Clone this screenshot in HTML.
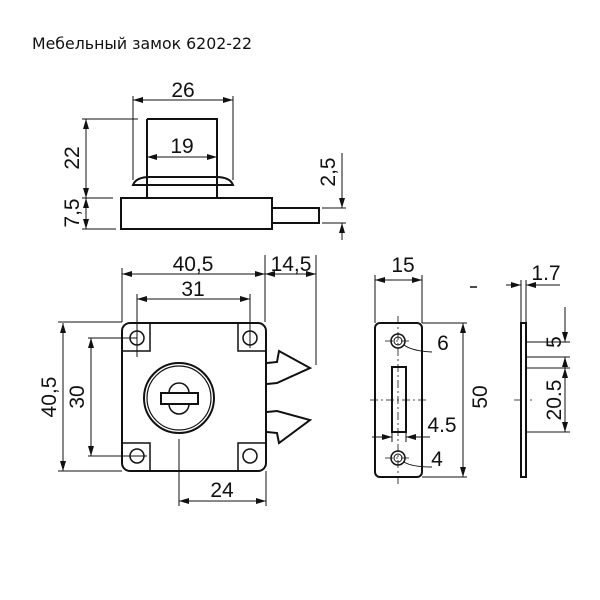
<!DOCTYPE html>
<html><head><meta charset="utf-8"><style>
html,body{margin:0;padding:0;background:#fff;}
svg{display:block}
text{font-family:"Liberation Sans",sans-serif;fill:#111}
</style></head><body>
<svg width="600" height="600" viewBox="0 0 600 600" xmlns="http://www.w3.org/2000/svg">
<defs>
<marker id="a" viewBox="0 0 10 6" refX="10" refY="3" markerWidth="10" markerHeight="6" orient="auto-start-reverse" markerUnits="userSpaceOnUse">
<path d="M0,0 L10,3 L0,6 z" fill="#111"/></marker>
</defs>
<text x="32" y="49" font-size="16" textLength="220" lengthAdjust="spacingAndGlyphs" style="font-family:'DejaVu Sans Condensed','DejaVu Sans',sans-serif">Мебельный замок 6202-22</text>

<g stroke="#111" fill="none" stroke-width="1">
<rect x="121" y="198" width="151" height="31" stroke-width="2"/>
<rect x="272" y="208" width="47" height="15" stroke-width="2"/>
<path d="M147,177 L147,198 M217,177 L217,198 M147,119 L217,119 L217,177 M147,119 L147,177" stroke-width="2"/>
<path d="M133,185 Q136,177 150,177 L216,177 Q230,177 233,185 Z" stroke-width="2"/>
<line x1="133" y1="100" x2="233" y2="100" marker-start="url(#a)" marker-end="url(#a)"/>
<line x1="133" y1="96" x2="133" y2="180"/><line x1="233" y1="96" x2="233" y2="180"/>
<line x1="147" y1="157" x2="217" y2="157" marker-start="url(#a)" marker-end="url(#a)"/>
<line x1="86" y1="119" x2="86" y2="198" marker-start="url(#a)" marker-end="url(#a)"/>
<line x1="86" y1="198" x2="86" y2="229" marker-start="url(#a)" marker-end="url(#a)"/>
<line x1="82" y1="119" x2="138" y2="119"/>
<line x1="82" y1="198" x2="113" y2="198"/>
<line x1="82" y1="229" x2="116" y2="229"/>
<line x1="342" y1="153" x2="342" y2="208" marker-end="url(#a)"/>
<line x1="342" y1="240" x2="342" y2="223" marker-end="url(#a)"/>
<line x1="322" y1="208" x2="346" y2="208"/><line x1="322" y1="223" x2="346" y2="223"/>

<rect x="122" y="323" width="144" height="148" rx="8" stroke-width="2"/>
<path d="M122,351 L150,351 L150,323 M238,323 L238,351 L266,351 M122,443 L150,443 L150,471 M238,471 L238,443 L266,443" stroke-width="1.5"/>
<circle cx="137" cy="338" r="7" stroke-width="1.5"/><circle cx="250" cy="338" r="7" stroke-width="1.5"/>
<circle cx="137" cy="456" r="7" stroke-width="1.5"/><circle cx="250" cy="456" r="7" stroke-width="1.5"/>
<circle cx="179" cy="398" r="35" stroke-width="2"/><circle cx="179" cy="398" r="32" stroke-width="1.2"/>
<path d="M169,393 A10,10 0 0 1 189,393" stroke-width="1.5"/>
<path d="M169,404 A10,10 0 0 0 189,404" stroke-width="1.5"/>
<rect x="161" y="393" width="37" height="11" stroke-width="2"/>
<path d="M267,363 L277,362 L279,351 L310,368 L277,383 L267,384" stroke-width="2"/>
<path d="M267,412 L277,411 L310,420 L279,443 L277,433 L267,432" stroke-width="2"/>
<line x1="122" y1="274" x2="265" y2="274" marker-start="url(#a)" marker-end="url(#a)"/>
<line x1="265" y1="274" x2="316" y2="274" marker-start="url(#a)" marker-end="url(#a)"/>
<line x1="122" y1="268" x2="122" y2="322"/><line x1="265" y1="255" x2="265" y2="322"/>
<line x1="316" y1="255" x2="316" y2="365"/>
<line x1="137" y1="299" x2="250" y2="299" marker-start="url(#a)" marker-end="url(#a)"/>
<line x1="137" y1="294" x2="137" y2="357"/><line x1="250" y1="294" x2="250" y2="348"/>
<line x1="63" y1="323" x2="63" y2="471" marker-start="url(#a)" marker-end="url(#a)"/>
<line x1="58" y1="322" x2="122" y2="322"/><line x1="58" y1="471" x2="122" y2="471"/>
<line x1="91" y1="338" x2="91" y2="456" marker-start="url(#a)" marker-end="url(#a)"/>
<line x1="88" y1="338" x2="137" y2="338"/><line x1="88" y1="456" x2="147" y2="456"/>
<line x1="179" y1="501" x2="266" y2="501" marker-start="url(#a)" marker-end="url(#a)"/>
<line x1="179" y1="439" x2="179" y2="506"/><line x1="266" y1="471" x2="266" y2="506"/>

<rect x="375" y="323" width="47" height="154" rx="5" stroke-width="2"/>
<circle cx="398" cy="341" r="7" stroke-width="1.5"/><circle cx="398" cy="341" r="4"/>
<circle cx="398" cy="458" r="7" stroke-width="1.5"/><circle cx="398" cy="458" r="4"/>
<rect x="392" y="367" width="14" height="65" stroke-width="2"/>
<g stroke-dasharray="8,3,2,3" stroke-width="0.8">
<line x1="398" y1="316" x2="398" y2="484"/>
<line x1="370" y1="400" x2="427" y2="400"/>
<line x1="385" y1="341" x2="412" y2="341"/>
<line x1="385" y1="458" x2="412" y2="458"/>
<line x1="514" y1="400" x2="532" y2="400"/>
</g>
<line x1="375" y1="280" x2="422" y2="280" marker-start="url(#a)" marker-end="url(#a)"/>
<line x1="375" y1="275" x2="375" y2="323"/><line x1="422" y1="275" x2="422" y2="323"/>
<path d="M404,345 Q412,351 432,352"/>
<path d="M404,462 Q412,467 432,467"/>
<line x1="463" y1="323" x2="463" y2="477" marker-start="url(#a)" marker-end="url(#a)"/>
<line x1="422" y1="323" x2="467" y2="323"/><line x1="422" y1="477" x2="467" y2="477"/>
<line x1="372" y1="437" x2="392" y2="437" marker-end="url(#a)"/>
<line x1="430" y1="437" x2="406" y2="437" marker-end="url(#a)"/>
<line x1="392" y1="432" x2="392" y2="442"/><line x1="406" y1="432" x2="406" y2="442"/>
<line x1="470" y1="287" x2="477" y2="287" stroke-width="1.5"/>

<rect x="521" y="323" width="5" height="154" stroke-width="2"/>
<line x1="506" y1="285" x2="521" y2="285" marker-end="url(#a)"/>
<line x1="560" y1="285" x2="526" y2="285" marker-end="url(#a)"/>
<line x1="521" y1="280" x2="521" y2="323"/><line x1="526" y1="280" x2="526" y2="323"/>
<line x1="565" y1="307" x2="565" y2="342" marker-end="url(#a)"/>
<line x1="565" y1="372" x2="565" y2="357" marker-end="url(#a)"/>
<line x1="526" y1="342" x2="570" y2="342"/><line x1="526" y1="357" x2="570" y2="357"/>
<line x1="565" y1="368" x2="565" y2="432" marker-start="url(#a)" marker-end="url(#a)"/>
<line x1="526" y1="368" x2="570" y2="368"/><line x1="526" y1="432" x2="570" y2="432"/>
</g>

<g font-size="21">
<text x="183" y="97" text-anchor="middle">26</text>
<text x="182" y="153" text-anchor="middle">19</text>
<text transform="translate(79,158) rotate(-90)" text-anchor="middle">22</text>
<text transform="translate(79,213) rotate(-90)" text-anchor="middle">7,5</text>
<text transform="translate(335,172) rotate(-90)" text-anchor="middle">2,5</text>
<text x="193" y="271" text-anchor="middle">40,5</text>
<text x="291" y="271" text-anchor="middle">14,5</text>
<text x="193" y="296" text-anchor="middle">31</text>
<text transform="translate(56,397) rotate(-90)" text-anchor="middle">40,5</text>
<text transform="translate(84,397) rotate(-90)" text-anchor="middle">30</text>
<text x="222" y="497" text-anchor="middle">24</text>
<text x="403" y="272" text-anchor="middle">15</text>
<text x="443" y="350" text-anchor="middle">6</text>
<text transform="translate(487,397) rotate(-90)" text-anchor="middle">50</text>
<text x="442" y="432" text-anchor="middle">4.5</text>
<text x="437" y="466" text-anchor="middle">4</text>
<text x="546" y="280" text-anchor="middle">1.7</text>
<text transform="translate(561,342) rotate(-90)" text-anchor="middle">5</text>
<text transform="translate(561,400) rotate(-90)" text-anchor="middle">20.5</text>
</g>
</svg>
</body></html>
